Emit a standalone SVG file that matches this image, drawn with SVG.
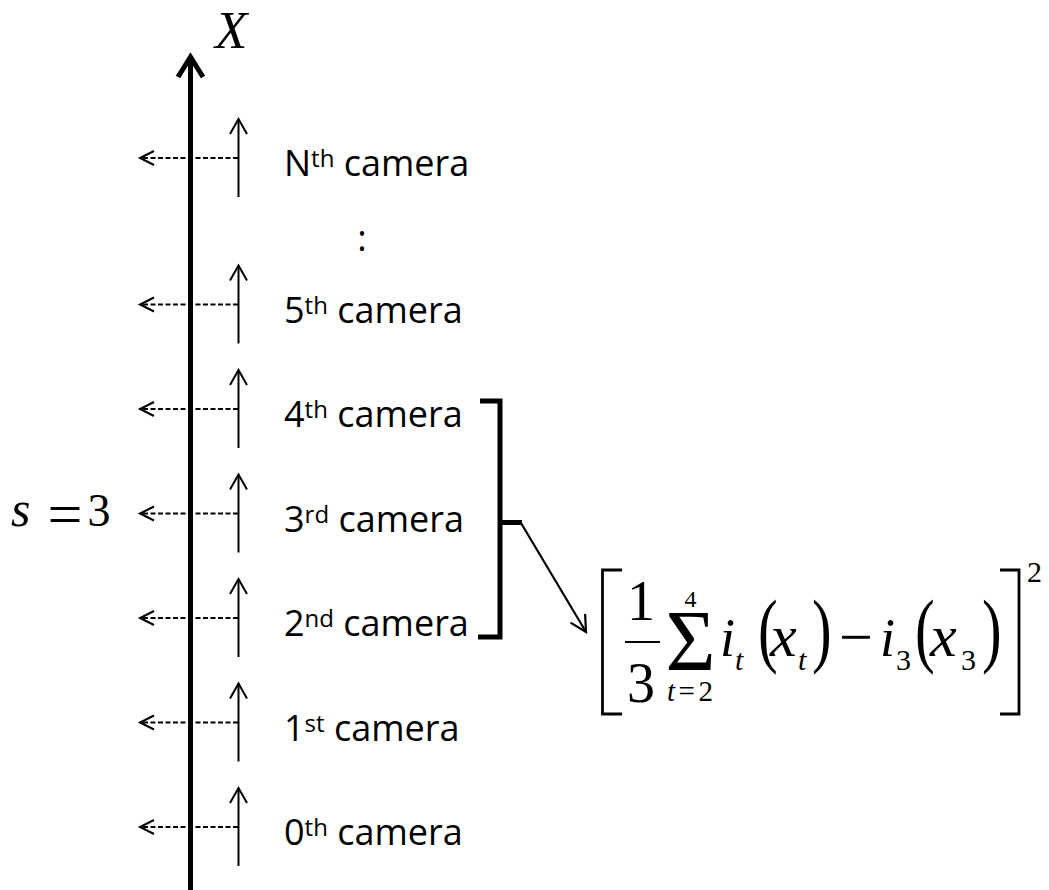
<svg xmlns="http://www.w3.org/2000/svg" width="1049" height="890" viewBox="0 0 1049 890">
<style>
.lbl{font-family:"Open Sans","Noto Sans",sans-serif;font-size:36px;fill:#000}
.sup{font-size:24px}
.m{font-family:"Liberation Serif","Times New Roman",serif;fill:#000}
.it{font-style:italic}
.cam{stroke:#000;stroke-width:2;fill:none}
.dash{stroke:#000;stroke-width:1.8;stroke-dasharray:5 2.5;fill:none}
.thick{stroke:#000;stroke-width:5;fill:none}
</style>
<defs>
<marker id="mCam" markerUnits="userSpaceOnUse" markerWidth="20" markerHeight="20" viewBox="0 0 20 20" refX="16" refY="10" orient="auto">
<path d="M1,1.5 L16,10 L1,18.5" fill="none" stroke="#000" stroke-width="2"/>
</marker>
<marker id="mDash" markerUnits="userSpaceOnUse" markerWidth="18" markerHeight="18" viewBox="0 0 18 18" refX="15" refY="9" orient="auto">
<path d="M1,2 L15,9 L1,16" fill="none" stroke="#000" stroke-width="2"/>
</marker>
<marker id="mCon" markerUnits="userSpaceOnUse" markerWidth="22" markerHeight="22" viewBox="0 0 22 22" refX="18" refY="11" orient="auto">
<path d="M2,2.5 L18,11 L2,19.5" fill="none" stroke="#000" stroke-width="2.2"/>
</marker>
</defs>

<g id="axis">
<line x1="190.5" y1="890" x2="190.5" y2="58" class="thick"/>
<path d="M178,77 L190.5,57 L203,77" class="thick" stroke-linejoin="miter" stroke-miterlimit="10"/>
<text x="215" y="48" class="m it" font-size="53">X</text>
</g>

<g id="cam-N">
<line x1="238.5" y1="197" x2="238.5" y2="119" class="cam" marker-end="url(#mCam)"/>
<text x="284" y="176" class="lbl">N<tspan class="sup" dy="-9">th</tspan><tspan dy="9"> camera</tspan></text>
</g>
<g id="dots">
<text x="362" y="251" class="lbl" text-anchor="middle">:</text>
</g>
<g id="cam-5">
<line x1="238.5" y1="343.5" x2="238.5" y2="265.5" class="cam" marker-end="url(#mCam)"/>
<text x="284" y="322.5" class="lbl">5<tspan class="sup" dy="-9">th</tspan><tspan dy="9"> camera</tspan></text>
</g>
<g id="cam-4">
<line x1="238.5" y1="448" x2="238.5" y2="370" class="cam" marker-end="url(#mCam)"/>
<text x="284" y="427" class="lbl">4<tspan class="sup" dy="-9">th</tspan><tspan dy="9"> camera</tspan></text>
</g>
<g id="cam-3">
<line x1="238.5" y1="552.5" x2="238.5" y2="474.5" class="cam" marker-end="url(#mCam)"/>
<text x="284" y="531.5" class="lbl">3<tspan class="sup" dy="-9">rd</tspan><tspan dy="9"> camera</tspan></text>
</g>
<g id="cam-2">
<line x1="238.5" y1="657" x2="238.5" y2="579" class="cam" marker-end="url(#mCam)"/>
<text x="284" y="636" class="lbl">2<tspan class="sup" dy="-9">nd</tspan><tspan dy="9"> camera</tspan></text>
</g>
<g id="cam-1">
<line x1="238.5" y1="761.5" x2="238.5" y2="683.5" class="cam" marker-end="url(#mCam)"/>
<text x="284" y="740.5" class="lbl">1<tspan class="sup" dy="-9">st</tspan><tspan dy="9"> camera</tspan></text>
</g>
<g id="cam-0">
<line x1="238.5" y1="866" x2="238.5" y2="788" class="cam" marker-end="url(#mCam)"/>
<text x="284" y="845" class="lbl">0<tspan class="sup" dy="-9">th</tspan><tspan dy="9"> camera</tspan></text>
</g>

<g id="s-label">
<text x="11" y="526" class="m it" font-size="50">s</text>
<text x="65" y="535" class="m" font-size="62" text-anchor="middle">=</text>
<text x="99" y="526" class="m" font-size="46" text-anchor="middle">3</text>
</g>

<g id="bracket">
<path d="M480,401 H500 V637 H478" class="thick" stroke-linejoin="miter"/>
<path d="M500,522.5 H522" class="thick"/>
</g>

<g id="connectors">
<line x1="238" y1="158" x2="140" y2="158" class="dash" marker-end="url(#mDash)"/>
<line x1="238" y1="304.5" x2="140" y2="304.5" class="dash" marker-end="url(#mDash)"/>
<line x1="238" y1="409" x2="140" y2="409" class="dash" marker-end="url(#mDash)"/>
<line x1="238" y1="513.5" x2="140" y2="513.5" class="dash" marker-end="url(#mDash)"/>
<line x1="238" y1="618" x2="140" y2="618" class="dash" marker-end="url(#mDash)"/>
<line x1="238" y1="722.5" x2="140" y2="722.5" class="dash" marker-end="url(#mDash)"/>
<line x1="238" y1="827" x2="140" y2="827" class="dash" marker-end="url(#mDash)"/>
<line x1="521" y1="523" x2="586" y2="632" stroke="#000" stroke-width="2.2" marker-end="url(#mCon)"/>
</g>

<g id="formula">
<path d="M622,570 H602.5 V714 H622" stroke="#000" stroke-width="2.8" fill="none"/>
<path d="M1000,570 H1019 V714 H1000" stroke="#000" stroke-width="2.8" fill="none"/>
<text x="641" y="620" class="m" font-size="56" text-anchor="middle">1</text>
<line x1="625" y1="642" x2="660" y2="642" stroke="#000" stroke-width="2.2"/>
<text x="641" y="702" class="m" font-size="56" text-anchor="middle">3</text>
<text x="690.5" y="670" class="m" font-size="86" text-anchor="middle">Σ</text>
<text x="690.5" y="607" class="m" font-size="24" text-anchor="middle">4</text>
<text x="667" y="701" class="m" font-size="29" textLength="46" lengthAdjust="spacing"><tspan class="it">t</tspan>=2</text>
<text x="720" y="656" class="m it" font-size="54">i</text>
<text x="735" y="670" class="m it" font-size="30">t</text>
<text transform="translate(758,657) scale(0.72,1)" class="m" font-size="82">(</text>
<text x="770" y="656" class="m it" font-size="60">x</text>
<text x="798" y="670" class="m it" font-size="30">t</text>
<text transform="translate(812,657) scale(0.72,1)" class="m" font-size="82">)</text>
<text x="856" y="657" class="m" font-size="60" text-anchor="middle">−</text>
<text x="880" y="656" class="m it" font-size="54">i</text>
<text x="896" y="670" class="m" font-size="30">3</text>
<text transform="translate(915,657) scale(0.72,1)" class="m" font-size="82">(</text>
<text x="930" y="656" class="m it" font-size="60">x</text>
<text x="961" y="670" class="m" font-size="30">3</text>
<text transform="translate(982,657) scale(0.72,1)" class="m" font-size="82">)</text>
<text x="1027" y="582" class="m" font-size="30">2</text>
</g>
</svg>
